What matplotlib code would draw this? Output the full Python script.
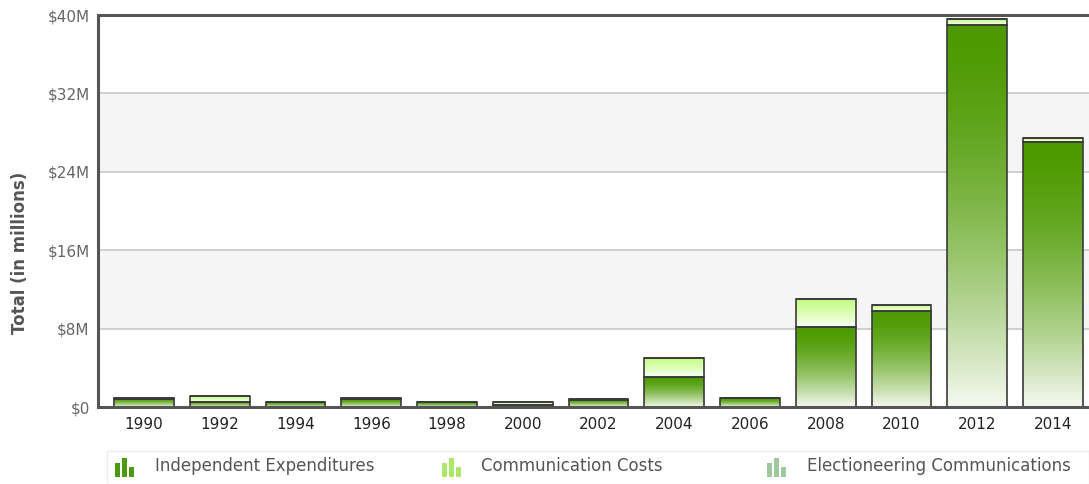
import numpy as np
import matplotlib
matplotlib.use("Agg")
import matplotlib.pyplot as plt
from matplotlib.patches import Rectangle
from matplotlib.colors import to_rgb

# ---- data (millions of dollars) ----
years = ["1990", "1992", "1994", "1996", "1998", "2000", "2002",
         "2004", "2006", "2008", "2010", "2012", "2014"]
independent_exp = [0.85, 0.55, 0.50, 0.80, 0.50, 0.20, 0.75,
                   3.10, 0.90, 8.15, 9.80, 39.00, 27.00]
communication_costs = [0.05, 0.55, 0.02, 0.10, 0.03, 0.35, 0.02,
                       1.85, 0.02, 2.85, 0.60, 0.60, 0.50]
electioneering = [0.0] * 13
y_ticks = [0, 8, 16, 24, 32, 40]
y_ticklabels = ["$0", "$8M", "$16M", "$24M", "$32M", "$40M"]
legend_labels = ["Independent Expenditures", "Communication Costs",
                 "Electioneering Communications"]

W, H = 1089, 484
fig = plt.figure(figsize=(W / 100, H / 100), dpi=100)
fig.patch.set_facecolor("white")

ax_left_px, ax_right_px = 98, 1098.5
ax_top_px, ax_bot_px = 15, 407
ax = fig.add_axes([ax_left_px / W, (H - ax_bot_px) / H,
                   (ax_right_px - ax_left_px) / W, (ax_bot_px - ax_top_px) / H])
ax.set_facecolor("white")

x = np.arange(len(years))
bw = 0.79

# alternating bands + grid
for lo, hi in [(8, 16), (24, 32)]:
    ax.axhspan(lo, hi, color="#f5f5f5", zorder=0, lw=0)
for t in y_ticks[1:-1]:
    ax.axhline(t, color="#cccccc", lw=1.3, zorder=0.5)


def gradient(top_hex, bot_hex, power, n=256):
    top = np.array(to_rgb(top_hex))
    bot = np.array(to_rgb(bot_hex))
    s = np.linspace(0, 1, n) ** power
    return (top[None, :] * (1 - s[:, None]) + bot[None, :] * s[:, None])[:, None, :]


ie_grad = gradient("#4c9a00", "#f6f9f1", 1.6)
cc_grad = gradient("#c4fd86", "#fafff4", 1.2)
ec_grad = gradient("#9fc89f", "#f4f8f4", 1.2)

series = [(independent_exp, ie_grad), (communication_costs, cc_grad),
          (electioneering, ec_grad)]
bottom = np.zeros(len(years))
for vals, grad in series:
    vals = np.array(vals, dtype=float)
    bars = ax.bar(x, vals, bw, bottom=bottom, facecolor="none",
                  edgecolor="#3a3a3a", linewidth=1.2, zorder=3)
    for p, v in zip(bars.patches, vals):
        if v <= 0:
            continue
        x0, y0 = p.get_x(), p.get_y()
        ax.imshow(grad, extent=(x0, x0 + p.get_width(), y0, y0 + p.get_height()),
                  aspect="auto", origin="upper", zorder=2, interpolation="bilinear")
    bottom = bottom + vals

ax.set_xlim((ax_left_px - 144) / 75.75, (ax_right_px - 144) / 75.75)
ax.set_ylim(0, 40)

ax.set_xticks(x)
ax.set_xticklabels(years, fontsize=11, color="#222222")
ax.set_yticks(y_ticks)
ax.set_yticklabels(y_ticklabels, fontsize=11, color="#666666")
ax.tick_params(axis="both", length=0)
ax.tick_params(axis="x", pad=7)
ax.tick_params(axis="y", pad=6)

for side in ["left", "top", "bottom"]:
    ax.spines[side].set_color("#555555")
    ax.spines[side].set_linewidth(2.2)
    ax.spines[side].set_zorder(5)
ax.spines["right"].set_visible(False)

fig.text(20 / W, 1 - 253 / H, "Total (in millions)", rotation=90, fontsize=12,
         fontweight="bold", color="#555555", ha="center", va="center")

# legend strip
fig.add_artist(Rectangle((107 / W, 0), 1 - 107 / W, (H - 451) / H,
                         transform=fig.transFigure, facecolor="white",
                         edgecolor="#eeeeee", lw=1, zorder=1))
icon_cols = ["#4c9a10", "#aee86a", "#9fc89f"]
icon_x = [115, 442, 767]
text_x = [155, 481, 807]
heights = [14, 19, 10]
for ix, tx, col, lab in zip(icon_x, text_x, icon_cols, legend_labels):
    for k, hgt in enumerate(heights):
        fig.add_artist(Rectangle(((ix + k * 7) / W, (H - 477) / H), 5 / W, hgt / H,
                                 transform=fig.transFigure, facecolor=col,
                                 edgecolor="none", zorder=2))
    fig.text(tx / W, 1 - 466 / H, lab, fontsize=12, color="#555555",
             ha="left", va="center")

fig.savefig("out.png", dpi=100, facecolor="white")
